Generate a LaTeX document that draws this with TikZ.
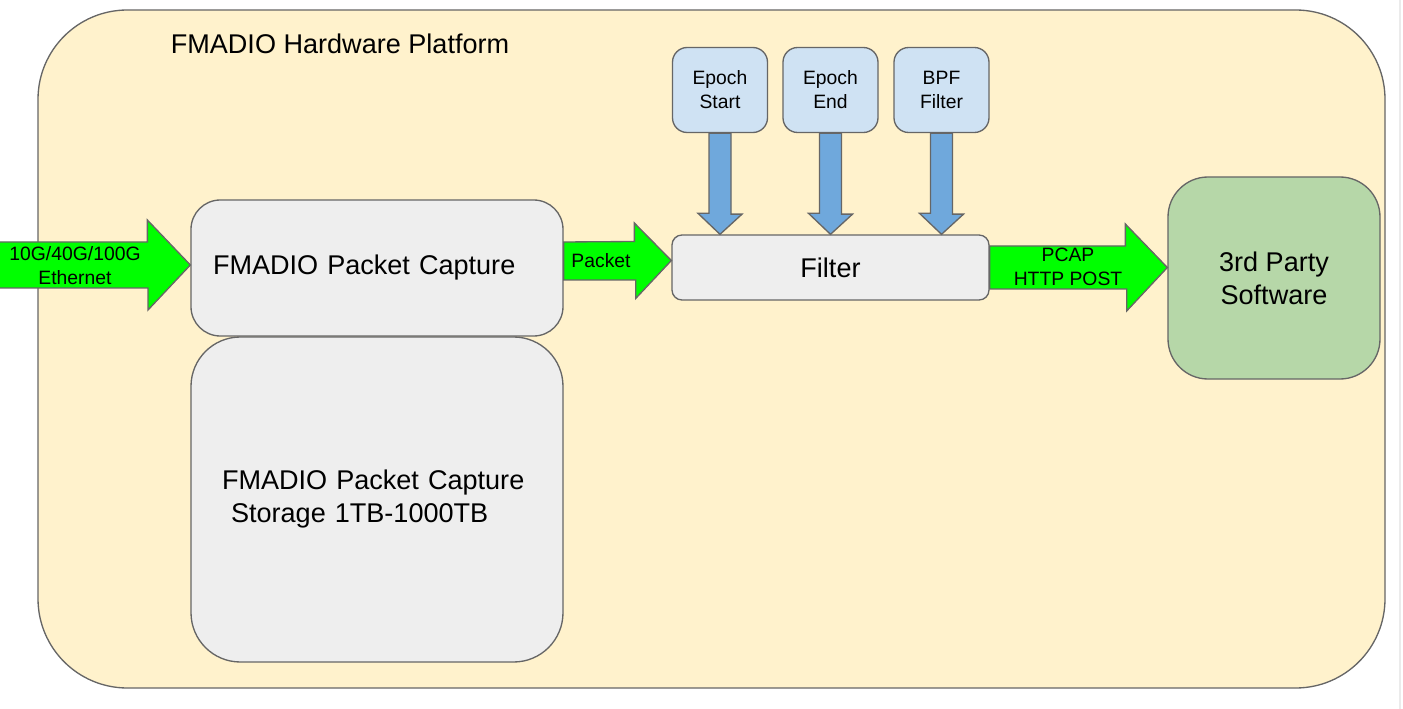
\documentclass[tikz,border=0pt]{standalone}
\usepackage{fontspec}
\setmainfont{Liberation Sans}
\usetikzlibrary{calc}
\definecolor{edge}{HTML}{666666}
\definecolor{platform}{HTML}{FFF2CC}
\definecolor{stage}{HTML}{EEEEEE}
\definecolor{param}{HTML}{CFE2F3}
\definecolor{feedblue}{HTML}{6FA8DC}
\definecolor{flowgreen}{HTML}{00FF00}
\definecolor{consumer}{HTML}{B6D7A8}
\begin{document}
\begin{tikzpicture}[x=0.75pt, y=-0.75pt]
\tikzstyle{box}=[rectangle,draw=edge,line width=1pt,inner sep=0pt,align=center]
\tikzstyle{small}=[font=\fontsize{14.5}{18}\selectfont]
\tikzstyle{big}=[font=\fontsize{20.3}{24.75}\selectfont]
\tikzstyle{param box}=[box,small,fill=param,rounded corners=11pt,minimum width=71.25pt,minimum height=63.75pt]
\tikzstyle{flow}=[fill=flowgreen,draw=edge,line width=1pt]
\tikzstyle{feed}=[fill=feedblue,draw=edge,line width=1pt]
\tikzstyle{lbl}=[small,align=center,inner sep=0pt]
\useasboundingbox (0,0) rectangle (1403,709);
\draw[black!8, line width=1.5pt] (1400,0) -- (1400,709);
% platform
\node[box,fill=platform,rounded corners=67pt,minimum width=1010.25pt,minimum height=508.5pt](platform) at (711.5,349) {};
\node[big,inner sep=0pt](title) at (340,44) {FMADIO Hardware Platform};
% capture and storage
\node[box,big,fill=stage,rounded corners=22pt,inner xsep=16.5pt,text width=246pt,align=left,minimum height=102pt](capture) at (377,268) {FMADIO Packet Capture};
\node[box,big,fill=stage,rounded corners=37pt,inner xsep=23.25pt,text width=232.5pt,align=left,minimum height=243.75pt](storage) at (377,499.5) {FMADIO Packet Capture\\\mbox{}\ Storage 1TB-1000TB};
% filter and its parameters
\node[box,big,fill=stage,rounded corners=7.5pt,minimum width=237.75pt,minimum height=48.75pt](filter) at (830.5,267.5) {Filter};
\node[param box](estart) at (720,90) {Epoch\\Start};
\node[param box](eend) at (830.5,90) {Epoch\\End};
\node[param box](bpf) at (941.5,90) {BPF\\Filter};
\node[box,big,fill=consumer,rounded corners=30pt,minimum width=159pt,minimum height=151.5pt](software) at (1274,278) {3rd Party\\Software};
% block arrows
\coordinate (wire) at (-2,265);
\draw[flow] ($(capture.west)+(0,-3)$) -- ++(-43,-45) -- ++(0,22) -- (wire |- 0,242) -- ++(0,46) -- ++(150,0) -- ++(0,22) -- cycle;
\draw[flow] ($(filter.west)+(0,-7)$) -- ++(-37,-37.5) -- ++(0,18.5) -- ($(capture.east)+(0,-26)$) -- ++(0,38) -- ++(72,0) -- ++(0,18.5) -- cycle;
\draw[flow] (software.west |- filter.east) -- ++(-42,-43.5) -- ++(0,22) -- ($(filter.east)+(0,-21.5)$) -- ++(0,43) -- ++(137,0) -- ++(0,22) -- cycle;
\foreach \p in {estart,eend,bpf}
  \draw[feed] (\p.south |- filter.north) -- ++(-22,-21) -- ++(11,0) -- ($(\p.south)+(-11,0)$) -- ++(22,0) -- ++(0,81) -- ++(11,0) -- cycle;
% arrow labels
\node[lbl](speed) at (75,266) {10G/40G/100G\\Ethernet};
\node[lbl](packet) at (601,261) {Packet};
\node[lbl](output) at (1068,266.5) {PCAP\\HTTP POST};
\end{tikzpicture}
\end{document}
